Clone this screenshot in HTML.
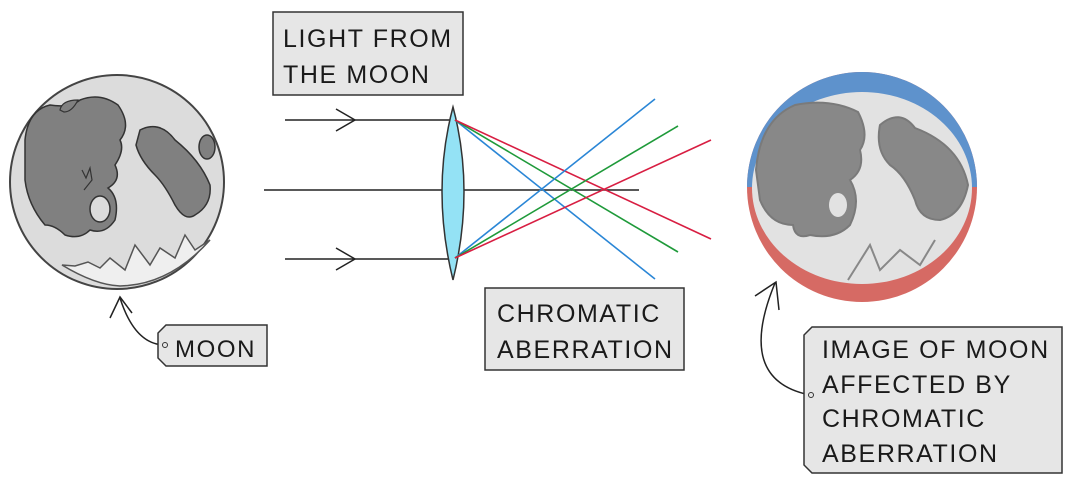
<!DOCTYPE html>
<html><head><style>
body{margin:0;background:#fff;width:1080px;height:493px;overflow:hidden}
text{font-family:"Liberation Sans",sans-serif;fill:#1a1a1a;letter-spacing:1.6px}
</style></head><body>
<svg width="1080" height="493" viewBox="0 0 1080 493" xmlns="http://www.w3.org/2000/svg">
<!-- left moon -->
<circle cx="117" cy="182" r="107" fill="#dcdcdc" stroke="#444" stroke-width="2"/>
<path d="M62,265 Q95,285 120,286 Q170,285 210,240 L195,250 L185,235 L175,258 L160,248 L150,265 L135,245 L125,270 L110,258 L100,268 L88,262 L75,266 Z" fill="#efefef" stroke="#555" stroke-width="1.5"/>
<path d="M25,140 Q28,110 50,105 Q70,108 80,100 Q100,92 118,105 Q132,125 120,140 Q125,150 115,165 Q122,180 108,188 Q120,198 115,220 Q105,235 90,230 Q80,240 65,235 Q55,225 45,225 Q28,205 25,180 Z" fill="#808080" stroke="#333" stroke-width="1.5"/>
<ellipse cx="100" cy="209" rx="10" ry="13" fill="#dcdcdc" stroke="#333" stroke-width="1.5"/>
<path d="M140,130 Q160,120 175,140 Q200,160 210,185 Q212,205 195,215 Q185,222 175,205 Q165,185 155,175 Q140,160 136,145 Z" fill="#808080" stroke="#333" stroke-width="1.5"/>
<ellipse cx="207" cy="147" rx="8" ry="12" fill="#808080" stroke="#333" stroke-width="1.5"/>
<path d="M60,110 Q62,100 78,100 Q72,112 64,112 Z" fill="#808080" stroke="#333" stroke-width="1.2"/>
<path d="M82,170 L86,178 L90,168 L92,180 L84,190" fill="none" stroke="#333" stroke-width="1.2"/>
<!-- moon arrow + tag -->
<path d="M165,345 Q135,345 120,298" fill="none" stroke="#222" stroke-width="1.5"/>
<path d="M110,318 L120,297 L132,313" fill="none" stroke="#222" stroke-width="1.5"/>
<path d="M166,325 L267,325 L267,366 L166,366 L158,358 L158,333 Z" fill="#e6e6e6" stroke="#333" stroke-width="1.5"/>
<circle cx="165" cy="345" r="2.5" fill="none" stroke="#333"/>
<text x="175" y="357" font-size="24">MOON</text>
<!-- box light from -->
<rect x="273" y="12" width="190" height="83" fill="#e6e6e6" stroke="#333" stroke-width="1.5"/>
<text x="283" y="47" font-size="25">LIGHT  FROM</text>
<text x="283" y="83" font-size="25">THE  MOON</text>
<!-- rays -->
<line x1="285" y1="120" x2="455" y2="120" stroke="#222" stroke-width="1.5"/>
<line x1="285" y1="259" x2="455" y2="259" stroke="#222" stroke-width="1.5"/>
<line x1="264" y1="190" x2="639" y2="190" stroke="#222" stroke-width="1.5"/>
<path d="M336,109 L355,120 L336,131 M336,248 L355,259 L336,270" fill="none" stroke="#222" stroke-width="1.5"/>
<path d="M453,107 Q475,190 453,280 Q431,190 453,107 Z" fill="#94e2f5" stroke="#333" stroke-width="1.5"/>
<g stroke-width="1.6">
<line x1="455" y1="120" x2="655" y2="279" stroke="#2a86d6"/>
<line x1="455" y1="120" x2="678" y2="252" stroke="#1f9a3a"/>
<line x1="455" y1="120" x2="711" y2="239" stroke="#d81e42"/>
<line x1="455" y1="258" x2="655" y2="99" stroke="#2a86d6"/>
<line x1="455" y1="258" x2="678" y2="126" stroke="#1f9a3a"/>
<line x1="455" y1="258" x2="711" y2="140" stroke="#d81e42"/>
</g>
<!-- chromatic box -->
<rect x="485" y="288" width="199" height="82" fill="#e6e6e6" stroke="#333" stroke-width="1.5"/>
<text x="497" y="322" font-size="25">CHROMATIC</text>
<text x="497" y="358" font-size="25">ABERRATION</text>
<!-- right moon -->
<circle cx="862" cy="187" r="115" fill="#d66a64"/>
<path d="M747,187 A115,115 0 0 1 977,187 L972,187 Q950,100 862,92 Q770,100 752,187 Z" fill="#5e92cc"/>
<ellipse cx="862" cy="188" rx="110" ry="96" fill="#e2e2e2"/>
<g fill="#888" stroke="#7a7a7a" stroke-width="2">
<path d="M756,170 Q760,120 795,105 Q830,98 858,112 Q870,135 860,150 Q865,170 850,180 Q862,200 850,225 Q835,240 810,235 Q795,240 793,225 Q770,225 760,200 Z"/>
<path d="M880,125 Q900,108 915,128 Q960,145 968,185 Q962,215 940,220 Q920,220 915,200 Q905,175 890,165 Q875,150 880,125 Z"/>
</g>
<ellipse cx="838" cy="205" rx="9" ry="12" fill="#e2e2e2"/>
<path d="M848,280 L870,245 L880,270 L900,250 L920,265 L935,240" fill="none" stroke="#888" stroke-width="2"/>
<!-- right arrow + tag -->
<path d="M810,395 Q735,380 775,283" fill="none" stroke="#222" stroke-width="1.5"/>
<path d="M755,296 L776,282 L779,310" fill="none" stroke="#222" stroke-width="1.5"/>
<path d="M812,327 L1062,327 L1062,473 L812,473 L804,465 L804,335 Z" fill="#e6e6e6" stroke="#333" stroke-width="1.5"/>
<circle cx="811" cy="395" r="2.5" fill="none" stroke="#333"/>
<text x="822" y="358" font-size="25">IMAGE  OF  MOON</text>
<text x="822" y="393" font-size="25">AFFECTED  BY</text>
<text x="822" y="427" font-size="25">CHROMATIC</text>
<text x="822" y="462" font-size="25">ABERRATION</text>
</svg>
</body></html>
